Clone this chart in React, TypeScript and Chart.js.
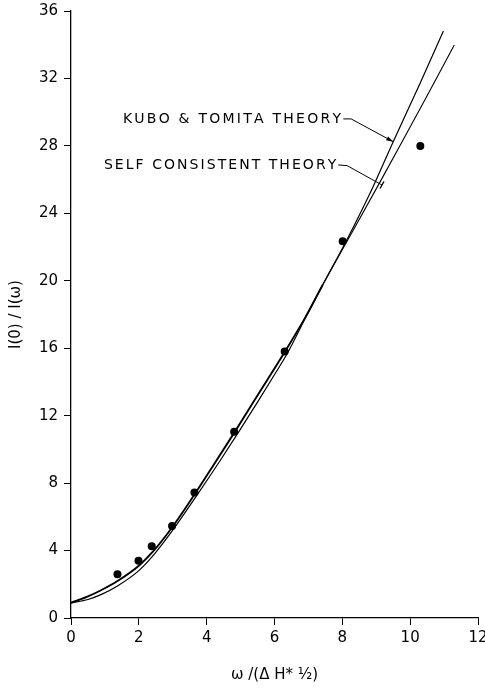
import React, { useEffect, useRef } from "react";
import { Chart, registerables } from "chart.js";

Chart.register(...registerables);

// Self consistent theory curve
const scX = [0, 0.5, 0.9, 1.37, 2.0, 2.4, 3.0, 3.64, 4.2, 4.81, 5.4, 5.92, 6.31, 6.9, 7.42, 8.25, 9.15, 9.75, 10.5, 11.3];
const scY = [0.9, 1.28, 1.66, 2.19, 3.1, 3.9, 5.43, 7.32, 9.06, 10.98, 12.88, 14.54, 15.8, 17.8, 19.75, 22.74, 26.0, 28.2, 30.98, 33.98];

// Kubo & Tomita theory curve
const kuboX = [0, 0.5, 0.9, 1.37, 2.0, 2.4, 3.0, 3.73, 4.38, 4.94, 5.5, 6.02, 6.38, 6.9, 7.42, 8.1, 8.9, 9.5, 10.3, 10.98];
const kuboY = [0.9, 1.1, 1.4, 1.9, 2.81, 3.65, 5.21, 7.33, 9.28, 11.02, 12.8, 14.5, 15.7, 17.75, 19.75, 22.3, 25.55, 28.25, 31.75, 34.82];

// Experimental points
const obsX = [1.37, 1.99, 2.38, 2.98, 3.64, 4.81, 6.3, 8.01, 10.3];
const obsY = [2.6, 3.4, 4.25, 5.45, 7.45, 11.05, 15.8, 22.35, 28.0];

// Axis ranges / ticks
const xMin = 0, xMax = 12, xStep = 2;
const yMin = 0, yMax = 36, yStep = 4;
const xTitle = "ω /(Δ H* ½)";
const yTitle = "I(0) / I(ω)";

// Label annotations (data coordinates)
const labelTexts = ["KUBO & TOMITA THEORY", "SELF CONSISTENT THEORY"];
const labelLeftX = [1.53, 0.97];
const labelRightX = [7.96, 7.82];
const labelY = [29.6, 26.87];
const leaderStartX = [8.03, 7.88];
const leaderElbowX = [8.26, 8.14];
const leaderElbowY = [29.6, 26.83];
const leaderEndX = [9.5, 9.17];
const leaderEndY = [28.25, 25.68];
const leaderEndKind = ["arrow", "bar"];

const FONT = '"DejaVu Sans", "Liberation Sans", sans-serif';

const toPts = (xs: number[], ys: number[]) => xs.map((x, i) => ({ x, y: ys[i] }));

const annotationPlugin = {
  id: "theoryLabels",
  afterDatasetsDraw(chart: any) {
    const { ctx } = chart;
    const xs = chart.scales.x;
    const ys = chart.scales.y;
    const px = (v: number) => xs.getPixelForValue(v);
    const py = (v: number) => ys.getPixelForValue(v);
    ctx.save();
    ctx.fillStyle = "#000";
    ctx.strokeStyle = "#000";
    ctx.font = `14px ${FONT}`;
    ctx.textBaseline = "middle";
    ctx.textAlign = "left";
    labelTexts.forEach((text, i) => {
      const left = px(labelLeftX[i]);
      const right = px(labelRightX[i]);
      const yy = py(labelY[i]);
      const chars = Array.from(text);
      let total = 0;
      chars.forEach((c) => (total += ctx.measureText(c).width));
      const sp = (right - left - total) / (chars.length - 1);
      let cx = left;
      chars.forEach((c) => {
        ctx.fillText(c, cx, yy);
        cx += ctx.measureText(c).width + sp;
      });
      // leader line
      const sx = px(leaderStartX[i]);
      const ex1 = px(leaderElbowX[i]);
      const ey1 = py(leaderElbowY[i]);
      const ex = px(leaderEndX[i]);
      const ey = py(leaderEndY[i]);
      ctx.lineWidth = 1;
      ctx.beginPath();
      ctx.moveTo(sx, yy);
      ctx.lineTo(ex1, ey1);
      ctx.lineTo(ex, ey);
      ctx.stroke();
      const ang = Math.atan2(ey - ey1, ex - ex1);
      if (leaderEndKind[i] === "arrow") {
        const L = 7, W = 2.2;
        ctx.beginPath();
        ctx.moveTo(ex, ey);
        ctx.lineTo(ex - L * Math.cos(ang) + W * Math.sin(ang), ey - L * Math.sin(ang) - W * Math.cos(ang));
        ctx.lineTo(ex - L * Math.cos(ang) - W * Math.sin(ang), ey - L * Math.sin(ang) + W * Math.cos(ang));
        ctx.closePath();
        ctx.fill();
      } else {
        const B = 4;
        ctx.lineWidth = 1.4;
        ctx.beginPath();
        ctx.moveTo(ex + B * Math.sin(ang), ey - B * Math.cos(ang));
        ctx.lineTo(ex - B * Math.sin(ang), ey + B * Math.cos(ang));
        ctx.stroke();
      }
    });
    ctx.restore();
  },
};

export default function App() {
  const ref = useRef<HTMLCanvasElement | null>(null);
  useEffect(() => {
    if (!ref.current) return;
    const chart = new Chart(ref.current, {
      type: "scatter",
      data: {
        datasets: [
          {
            label: "Kubo & Tomita theory",
            data: toPts(kuboX, kuboY),
            showLine: true,
            borderColor: "#000",
            borderWidth: 1.2,
            pointRadius: 0,
            cubicInterpolationMode: "monotone",
            fill: false,
          } as any,
          {
            label: "Self consistent theory",
            data: toPts(scX, scY),
            showLine: true,
            borderColor: "#000",
            borderWidth: 1.2,
            pointRadius: 0,
            cubicInterpolationMode: "monotone",
            fill: false,
            segment: {
              borderWidth: (c: any) => (c.p0.parsed.x < 7.3 ? 1.9 : 1.1),
            },
          } as any,
          {
            label: "Experiment",
            data: toPts(obsX, obsY),
            showLine: false,
            pointRadius: 4,
            pointBackgroundColor: "#000",
            pointBorderColor: "#000",
            pointBorderWidth: 0,
          } as any,
        ],
      },
      options: {
        animation: false,
        responsive: false,
        layout: { padding: { top: 11, right: 7, left: 0, bottom: 0 } },
        plugins: { legend: { display: false }, tooltip: { enabled: false } },
        scales: {
          x: {
            type: "linear",
            min: xMin,
            max: xMax,
            ticks: { stepSize: xStep, color: "#000", font: { family: FONT, size: 15 }, padding: 4 },
            grid: { display: true, drawOnChartArea: false, drawTicks: true, tickLength: 7, color: "#000", tickWidth: 1 },
            border: { display: true, color: "#000", width: 1.3 },
            title: { display: true, text: xTitle, color: "#000", font: { family: FONT, size: 15 }, padding: { top: 0, bottom: 5 } },
            afterFit(s: any) {
              s.height = 71;
              s.paddingLeft = 0;
              s.paddingRight = 0;
            },
          },
          y: {
            type: "linear",
            min: yMin,
            max: yMax,
            ticks: { stepSize: yStep, color: "#000", font: { family: FONT, size: 15 }, padding: 6 },
            grid: { display: true, drawOnChartArea: false, drawTicks: true, tickLength: 7, color: "#000", tickWidth: 1 },
            border: { display: true, color: "#000", width: 1.3 },
            title: { display: true, text: yTitle, color: "#000", font: { family: FONT, size: 15 }, padding: { top: 7, bottom: 0 } },
            afterFit(s: any) {
              s.width = 71;
              s.paddingTop = 0;
              s.paddingBottom = 0;
            },
          },
        },
      } as any,
      plugins: [annotationPlugin],
    });
    return () => chart.destroy();
  }, []);
  return (
    <div style={{ position: "absolute", left: 0, top: 0, width: 485, height: 689, background: "#fff" }}>
      <canvas ref={ref} width={485} height={689} style={{ width: 485, height: 689, display: "block" }} />
    </div>
  );
}
